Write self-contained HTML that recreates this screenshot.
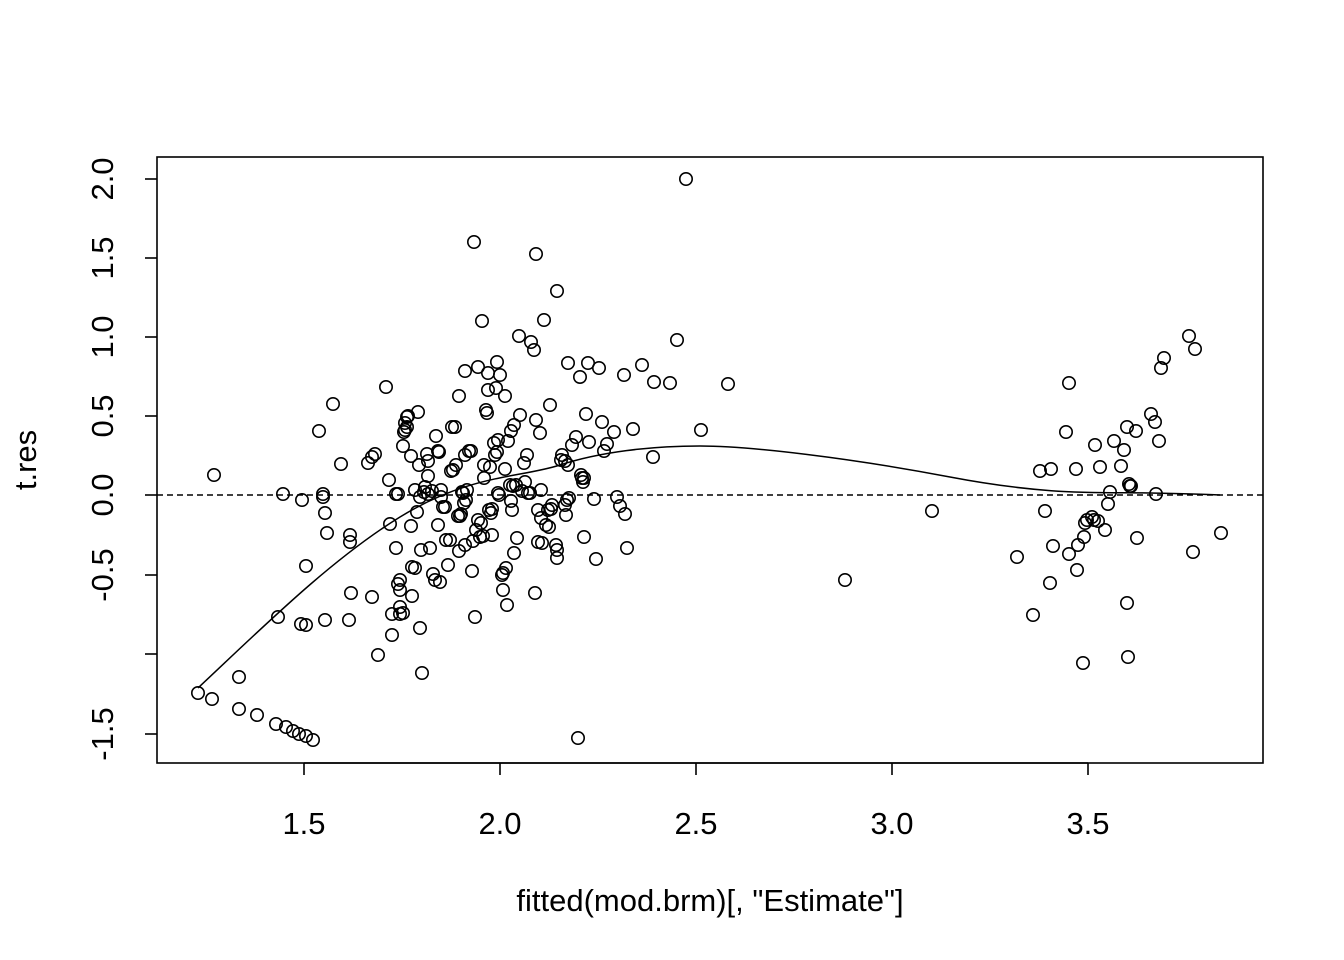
<!DOCTYPE html>
<html><head><meta charset="utf-8"><style>html,body{margin:0;padding:0;background:#fff}svg{display:block}text{font-family:"Liberation Sans",Arial,sans-serif;fill:#000}</style></head>
<body>
<svg width="1344" height="960" viewBox="0 0 1344 960" xmlns="http://www.w3.org/2000/svg">
<rect x="157" y="157" width="1106" height="606" fill="none" stroke="#000" stroke-width="1.6"/>
<g stroke="#000" stroke-width="1.6">
<line x1="304" y1="763" x2="1088" y2="763"/>
<line x1="304" y1="763" x2="304" y2="775"/><line x1="500" y1="763" x2="500" y2="775"/><line x1="696" y1="763" x2="696" y2="775"/><line x1="892" y1="763" x2="892" y2="775"/><line x1="1088" y1="763" x2="1088" y2="775"/>
<line x1="145" y1="179" x2="157" y2="179"/><line x1="145" y1="258" x2="157" y2="258"/><line x1="145" y1="337" x2="157" y2="337"/><line x1="145" y1="416" x2="157" y2="416"/><line x1="145" y1="495" x2="157" y2="495"/><line x1="145" y1="575" x2="157" y2="575"/><line x1="145" y1="654" x2="157" y2="654"/><line x1="145" y1="734" x2="157" y2="734"/>
</g>
<g font-size="31" text-anchor="middle">
<text x="304" y="834">1.5</text><text x="500" y="834">2.0</text><text x="696" y="834">2.5</text><text x="892" y="834">3.0</text><text x="1088" y="834">3.5</text>
<text transform="translate(113,179) rotate(-90)">2.0</text>
<text transform="translate(113,258) rotate(-90)">1.5</text>
<text transform="translate(113,337) rotate(-90)">1.0</text>
<text transform="translate(113,416) rotate(-90)">0.5</text>
<text transform="translate(113,495) rotate(-90)">0.0</text>
<text transform="translate(113,575) rotate(-90)">-0.5</text>
<text transform="translate(113,734) rotate(-90)">-1.5</text>
<text x="710" y="911">fitted(mod.brm)[, "Estimate"]</text>
<text transform="translate(36,460) rotate(-90)">t.res</text>
</g>
<line x1="157" y1="495" x2="1263" y2="495" stroke="#000" stroke-width="1.5" stroke-dasharray="6,4"/>
<path fill="none" stroke="#000" stroke-width="1.5" d="M198,688 C260,630 330,560 400,517 S520,478 560,465 S650,446 700,446 S850,458 950,477 S1100,492 1150,493 S1200,494 1220,495"/>
<g fill="none" stroke="#000" stroke-width="1.6" id="pts"></g>
</svg>
<script>
var p=[198,693,212,699,239,709,239,677,257,715,276,724,286,727,293,731,299,734,306,736,313,740,278,617,301,624,306,625,214,475,283,494,302,500,306,566,319,431,323,494,323,497,325,513,327,533,325,620,333,404,341,464,350,535,350,542,351,593,349,620,368,463,372,457,375,454,372,597,378,655,386,387,389,480,390,524,392,614,392,635,396,494,396,548,398,494,398,584,400,580,400,590,400,607,400,614,403,613,403,446,405,423,405,430,407,417,407,427,408,416,404,432,411,456,411,526,412,596,412,567,415,490,415,568,417,512,418,412,419,465,420,497,420,628,421,550,422,673,424,492,425,487,427,454,428,461,428,476,428,494,430,548,432,491,433,574,435,580,436,436,438,525,438,451,439,452,440,582,441,497,441,490,443,507,445,507,446,540,448,565,450,540,451,471,452,427,453,470,455,427,456,465,458,516,459,396,459,551,460,516,461,514,462,492,463,493,464,503,465,371,465,455,465,545,466,500,467,490,469,451,471,451,472,571,473,541,474,242,475,617,476,530,478,520,478,367,480,537,481,523,482,321,483,536,484,478,484,465,486,410,487,413,488,373,488,390,489,510,490,467,491,513,492,535,492,509,494,443,495,455,496,388,497,362,497,452,498,493,498,440,499,495,500,375,502,575,503,590,503,573,505,469,505,396,506,568,507,605,508,441,510,485,511,431,511,501,512,510,513,486,514,553,514,425,516,485,517,538,519,336,520,415,522,491,524,463,525,482,527,455,528,493,530,493,531,342,534,350,535,593,536,254,536,420,538,510,538,542,540,433,541,518,541,490,542,543,544,320,546,525,548,510,549,527,550,405,551,509,552,505,556,545,557,550,557,291,557,558,561,460,562,455,565,505,565,461,566,515,567,500,568,363,568,465,569,498,572,445,576,437,578,738,580,377,581,475,582,478,583,482,584,478,584,537,586,414,588,363,589,442,594,499,596,559,599,368,602,422,604,451,607,444,614,432,617,497,620,506,624,375,625,514,627,548,633,429,642,365,653,457,654,382,670,383,677,340,686,179,701,430,728,384,845,580,932,511,1017,557,1033,615,1040,471,1045,511,1050,583,1051,469,1053,546,1066,432,1069,383,1069,554,1076,469,1077,570,1078,545,1083,663,1084,537,1085,523,1087,520,1092,517,1094,520,1095,445,1098,521,1100,467,1105,530,1108,504,1110,492,1114,441,1121,466,1124,450,1127,427,1127,603,1128,657,1129,484,1130,486,1131,486,1136,431,1137,538,1151,414,1155,422,1156,494,1159,441,1161,368,1164,358,1189,336,1193,552,1195,349,1221,533];
var g=document.getElementById('pts'),s='';
for(var i=0;i<p.length;i+=2)s+='<circle cx="'+p[i]+'" cy="'+p[i+1]+'" r="6.2"/>';
g.innerHTML=s;
</script>
</body></html>
